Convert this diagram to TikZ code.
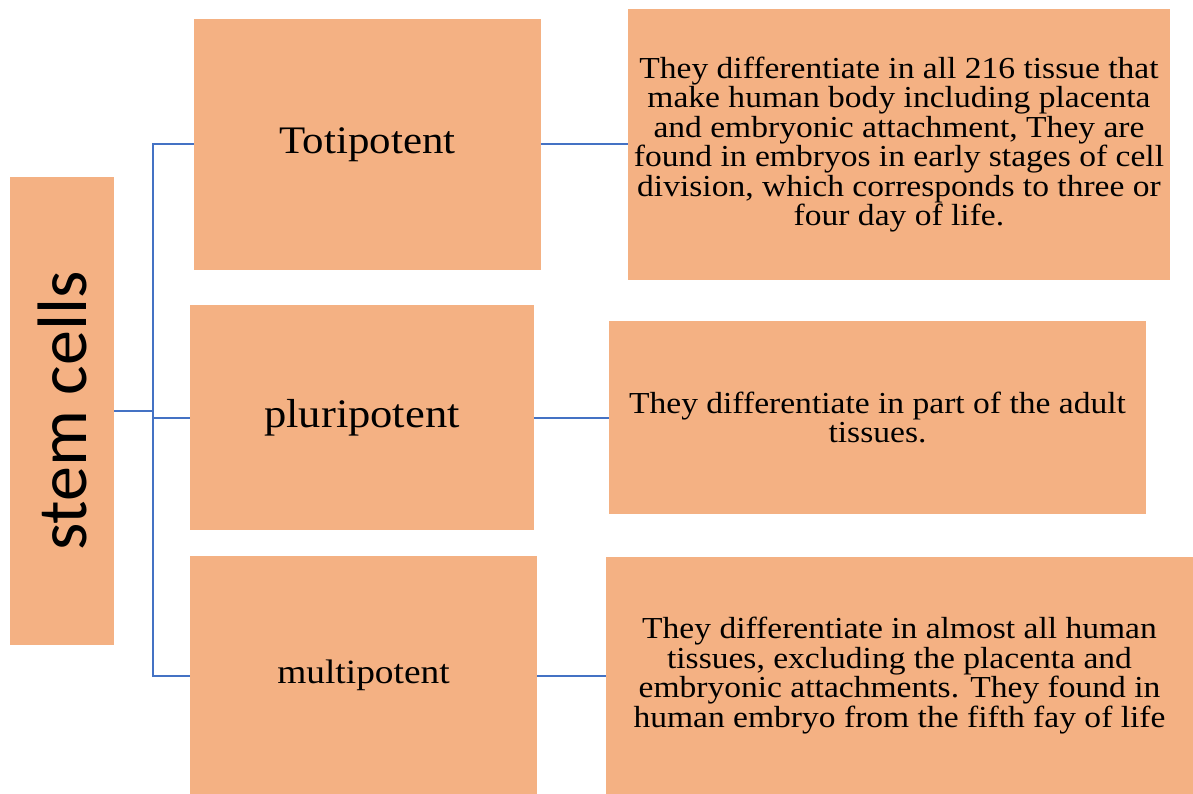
\documentclass[tikz,border=0pt]{standalone}
\usepackage{fontspec}
\setmainfont{Liberation Serif}[FakeStretch=1.1]
\newfontfamily\calibrifont{Carlito}
\usepackage{tikz}
\definecolor{BoxOrange}{HTML}{F4B183}
\definecolor{LinkBlue}{HTML}{4472C4}
\tikzset{
  stemnode/.style={
    fill=BoxOrange,minimum width=468pt,minimum height=104pt,
    inner sep=0pt,font=\calibrifont\fontsize{70}{80}\selectfont
  },
  catnode/.style={
    fill=BoxOrange,inner sep=0pt,
    font=\fontsize{39}{44}\selectfont
  },
  descnode/.style={
    fill=BoxOrange,inner sep=0pt,align=center,
    font=\fontsize{30.5}{29.5}\selectfont
  },
  link/.style={draw=LinkBlue,line width=2pt},
}

\begin{document}
\begin{tikzpicture}[x=1pt,y=-1pt]
  \useasboundingbox[fill=white] (0,0) rectangle (1193,794);
  \node[stemnode,rotate=90] (stem) at (62,411) {stem cells};
  \node[catnode,minimum width=347pt,minimum height=251pt] (toti)  at (367.5,144.5) {Totipotent};
  \node[catnode,minimum width=344pt,minimum height=225pt,font=\fontsize{40.5}{44}\selectfont] (pluri) at (362,417.5) {pluripotent};
  \node[catnode,minimum width=347pt,minimum height=239pt,font=\fontsize{34}{40}\selectfont] (multi) at (363.5,675.5) {multipotent};
  \node[descnode,minimum width=542pt,minimum height=271pt] (d1) at (899,144.5)
    {They differentiate in all 216 tissue that\\make human body including placenta\\and embryonic attachment, They are\\found in embryos in early stages of cell\\division, which corresponds to three or\\four day of life.};
  \node[descnode,minimum width=537pt,minimum height=193pt] (d2) at (877.5,417.5)
    {They differentiate in part of the adult\\tissues.};
  \node[descnode,minimum width=587pt,minimum height=237pt] (d3) at (899.5,675.5)
    {They differentiate in almost all human\\tissues, excluding the placenta and\\embryonic attachments. They found in\\human embryo from the fifth fay of life};
  \coordinate (jn) at (153,411);
  \draw[link] (stem.south) -- (jn);
  \draw[link] (toti.west) -| (jn) |- (multi.west);
  \draw[link] (jn) |- (pluri.west);
  \draw[link] (toti.east) -- (d1.west);
  \draw[link] (pluri.east) -- (d2.west);
  \draw[link] (multi.east) -- (d3.west);
\end{tikzpicture}
\end{document}
